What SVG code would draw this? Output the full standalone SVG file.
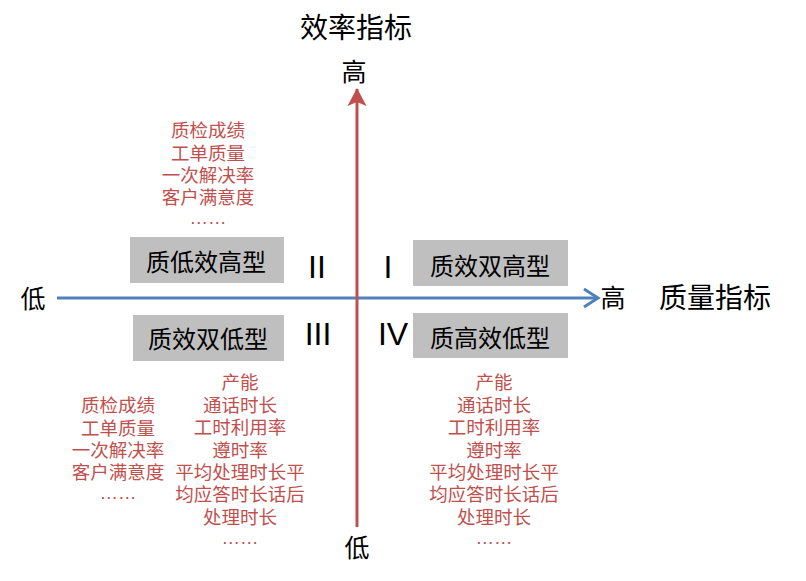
<svg xmlns="http://www.w3.org/2000/svg" width="806" height="581" viewBox="0 0 806 581">
<defs>
<style>
.k{font-family:"Liberation Sans","Noto Sans CJK SC",sans-serif;fill:#000;text-anchor:middle}
.r{font-family:"Liberation Sans","Noto Sans CJK SC",sans-serif;fill:#C0504D;font-size:18.5px;text-anchor:middle}
.box{fill:#BFBFBF}
.bt{font-family:"Liberation Sans","Noto Sans CJK SC",sans-serif;font-size:24px;text-anchor:middle;fill:#000}
.rn{font-family:"Liberation Sans",sans-serif;font-size:32px;text-anchor:middle;fill:#000}
</style>
<marker id="ah" markerWidth="20" markerHeight="24" refX="14" refY="10" orient="auto" markerUnits="userSpaceOnUse">
<path d="M1,1 L15,10 L1,19" fill="none" stroke="#4F81BD" stroke-width="3"/>
</marker>
<marker id="av" markerWidth="20" markerHeight="20" refX="17" refY="10" orient="auto" markerUnits="userSpaceOnUse">
<path d="M0,0.5 L18,10 L0,19.5 L4,10 Z" fill="#C0504D"/>
</marker>
</defs>
<rect width="806" height="581" fill="#fff"/>
<g id="connectors">
<line x1="57" y1="298" x2="597" y2="298" stroke="#4F81BD" stroke-width="3" marker-end="url(#ah)"/>
<line x1="357" y1="527" x2="357" y2="89" stroke="#C0504D" stroke-width="3" marker-end="url(#av)"/>
</g>
<g id="axis-labels">
<text class="k" x="356" y="38" font-size="28">效率指标</text>
<text class="k" x="354" y="81" font-size="25">高</text>
<text class="k" x="33" y="308" font-size="25">低</text>
<text class="k" x="613" y="307" font-size="25">高</text>
<text class="k" x="715" y="308" font-size="28">质量指标</text>
<text class="k" x="357" y="557" font-size="25">低</text>
</g>
<g id="node-q2">
<rect class="box" x="130" y="237" width="154" height="46"/>
<text class="bt" x="206" y="271">质低效高型</text>
<text class="rn" x="317" y="278">II</text>
</g>
<g id="node-q1">
<rect class="box" x="413" y="240" width="155" height="46"/>
<text class="bt" x="490" y="275">质效双高型</text>
<text class="rn" x="388" y="278">I</text>
</g>
<g id="node-q3">
<rect class="box" x="133" y="315" width="151" height="46"/>
<text class="bt" x="208" y="348">质效双低型</text>
<text class="rn" x="318" y="345">III</text>
</g>
<g id="node-q4">
<rect class="box" x="413" y="313" width="155" height="45"/>
<text class="bt" x="490" y="347">质高效低型</text>
<text class="rn" x="393" y="345">IV</text>
</g>
<g id="list-top">
<text class="r" x="208" y="137">质检成绩</text>
<text class="r" x="208" y="160">工单质量</text>
<text class="r" x="208" y="182">一次解决率</text>
<text class="r" x="208" y="204">客户满意度</text>
<text class="r" x="208" y="224">……</text>
</g>
<g id="list-bottom-left">
<text class="r" x="118" y="412">质检成绩</text>
<text class="r" x="118" y="435">工单质量</text>
<text class="r" x="118" y="457">一次解决率</text>
<text class="r" x="118" y="479">客户满意度</text>
<text class="r" x="118" y="499">……</text>
</g>
<g id="list-bottom-mid">
<text class="r" x="240" y="389">产能</text>
<text class="r" x="240" y="412">通话时长</text>
<text class="r" x="240" y="434">工时利用率</text>
<text class="r" x="240" y="457">遵时率</text>
<text class="r" x="240" y="479">平均处理时长平</text>
<text class="r" x="240" y="501">均应答时长话后</text>
<text class="r" x="240" y="524">处理时长</text>
<text class="r" x="240" y="544">……</text>
</g>
<g id="list-bottom-right">
<text class="r" x="494" y="389">产能</text>
<text class="r" x="494" y="412">通话时长</text>
<text class="r" x="494" y="434">工时利用率</text>
<text class="r" x="494" y="457">遵时率</text>
<text class="r" x="494" y="479">平均处理时长平</text>
<text class="r" x="494" y="501">均应答时长话后</text>
<text class="r" x="494" y="524">处理时长</text>
<text class="r" x="494" y="544">……</text>
</g>
</svg>
